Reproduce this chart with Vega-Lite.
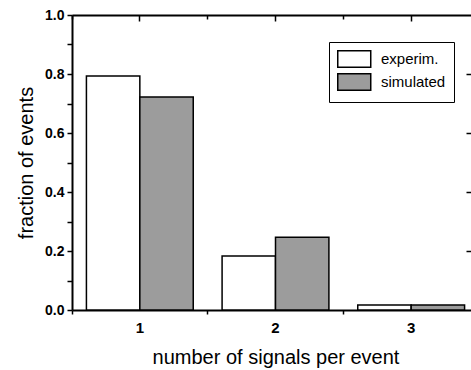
{
  "$schema": "https://vega.github.io/schema/vega-lite/v6.json",
  "autosize": {"type": "none"},
  "padding": {"left": 72, "top": 15, "right": 0, "bottom": 60},
  "width": 399,
  "height": 295,
  "background": "white",
  "config": {
    "view": {"stroke": null},
    "font": "Liberation Sans",
    "axis": {"domainColor": "black", "tickColor": "black", "labelColor": "black", "titleColor": "black", "grid": false, "domainWidth": 2, "tickWidth": 1.5}
  },
  "data": {
    "values": [
      {"n": "1", "type": "experim.", "fraction": 0.793},
      {"n": "1", "type": "simulated", "fraction": 0.722},
      {"n": "2", "type": "experim.", "fraction": 0.183},
      {"n": "2", "type": "simulated", "fraction": 0.247},
      {"n": "3", "type": "experim.", "fraction": 0.017},
      {"n": "3", "type": "simulated", "fraction": 0.017}
    ]
  },
  "resolve": {"axis": {"x": "independent", "y": "independent"}},
  "layer": [
    {
      "mark": {"type": "bar", "stroke": "black", "strokeWidth": 1.5},
      "encoding": {
        "x": {
          "field": "n", "type": "nominal",
          "scale": {"domain": ["1", "2", "3"], "range": [0, 407], "paddingInner": 0, "paddingOuter": 0},
          "axis": {"orient": "bottom", "title": "number of signals per event", "labelAngle": 0, "bandPosition": 0, "labelOffset": 0, "tickSize": 4, "labelPadding": 6, "labelFontSize": 15, "labelFontWeight": "bold", "titleFontSize": 20, "titleFontWeight": "normal", "titlePadding": 12}
        },
        "xOffset": {
          "field": "type", "type": "nominal",
          "scale": {"domain": ["experim.", "simulated"], "paddingInner": 0, "paddingOuter": 0.27}
        },
        "y": {
          "field": "fraction", "type": "quantitative",
          "scale": {"domain": [0, 1], "nice": false},
          "axis": {"orient": "left", "title": "fraction of events", "values": [0, 0.1, 0.2, 0.3, 0.4, 0.5, 0.6, 0.7, 0.8, 0.9, 1.0], "labelExpr": "round(datum.value*10) % 2 == 0 ? format(datum.value, '.1f') : ''", "tickSize": 5, "labelPadding": 3, "labelFontSize": 14, "labelFontWeight": "bold", "titleFontSize": 20, "titleFontWeight": "normal", "titlePadding": 8}
        },
        "color": {
          "field": "type", "type": "nominal",
          "scale": {"domain": ["experim.", "simulated"], "range": ["white", "#9c9c9c"]},
          "legend": {
            "orient": "none", "legendX": 257, "legendY": 27, "title": null,
            "strokeColor": "black", "fillColor": "white", "padding": 8,
            "symbolType": "M-1,-1H3V1H-1Z", "symbolSize": 272, "symbolStrokeColor": "black", "symbolStrokeWidth": 1.5, "symbolOpacity": 1,
            "labelFontSize": 15, "labelColor": "black", "labelOffset": 26, "rowPadding": -1
          }
        }
      }
    },
    {
      "mark": {"type": "bar", "opacity": 0},
      "encoding": {
        "x": {"field": "n", "type": "nominal", "axis": {"orient": "top", "title": null, "labels": false, "bandPosition": 0, "tickSize": -4}},
        "xOffset": {"field": "type", "type": "nominal"},
        "y": {"field": "fraction", "type": "quantitative", "axis": {"orient": "right", "title": null, "labels": false, "domain": false, "values": [0.2, 0.4, 0.6, 0.8], "tickSize": -5}}
      }
    },
    {
      "mark": {"type": "bar", "opacity": 0},
      "encoding": {
        "x": {"field": "n", "type": "nominal", "axis": {"orient": "top", "title": null, "labels": false, "domain": false, "bandPosition": 0.5, "tickSize": -6}},
        "xOffset": {"field": "type", "type": "nominal"},
        "y": {"field": "fraction", "type": "quantitative", "axis": null}
      }
    }
  ]
}
